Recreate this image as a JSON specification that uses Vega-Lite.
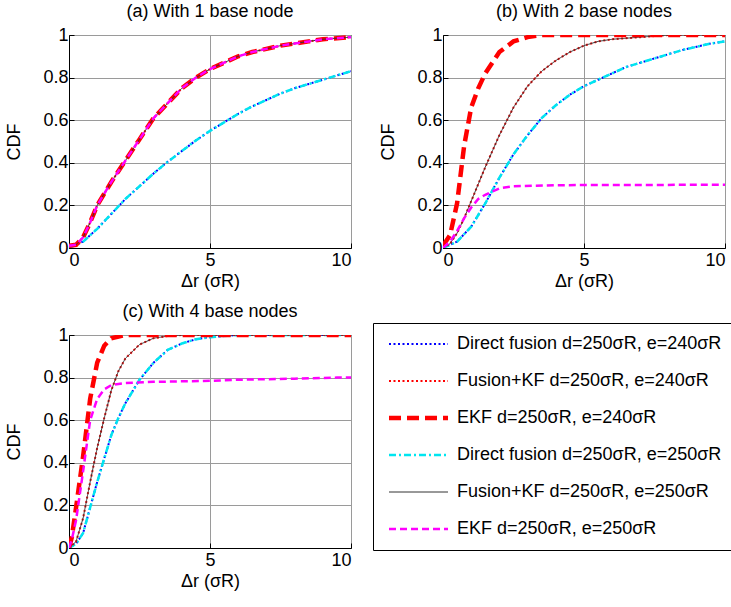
{
  "$schema": "https://vega.github.io/schema/vega-lite/v6.json",
  "padding": {"left": 5, "top": 2, "right": 5, "bottom": 5},
  "background": "white",
  "data": {"values": [
    {"p":"a","s":["DF240","DF250"],"x":0,"y":0},
    {"p":"a","s":["DF240","DF250"],"x":0.5,"y":0.03},
    {"p":"a","s":["DF240","DF250"],"x":1,"y":0.09},
    {"p":"a","s":["DF240","DF250"],"x":1.5,"y":0.16},
    {"p":"a","s":["DF240","DF250"],"x":2,"y":0.23},
    {"p":"a","s":["DF240","DF250"],"x":2.5,"y":0.29},
    {"p":"a","s":["DF240","DF250"],"x":3,"y":0.35},
    {"p":"a","s":["DF240","DF250"],"x":3.5,"y":0.405},
    {"p":"a","s":["DF240","DF250"],"x":4,"y":0.455},
    {"p":"a","s":["DF240","DF250"],"x":4.5,"y":0.505},
    {"p":"a","s":["DF240","DF250"],"x":5,"y":0.55},
    {"p":"a","s":["DF240","DF250"],"x":5.5,"y":0.59},
    {"p":"a","s":["DF240","DF250"],"x":6,"y":0.63},
    {"p":"a","s":["DF240","DF250"],"x":6.5,"y":0.665},
    {"p":"a","s":["DF240","DF250"],"x":7,"y":0.695},
    {"p":"a","s":["DF240","DF250"],"x":7.5,"y":0.725},
    {"p":"a","s":["DF240","DF250"],"x":8,"y":0.75},
    {"p":"a","s":["DF240","DF250"],"x":8.5,"y":0.77},
    {"p":"a","s":["DF240","DF250"],"x":9,"y":0.79},
    {"p":"a","s":["DF240","DF250"],"x":9.5,"y":0.81},
    {"p":"a","s":["DF240","DF250"],"x":10,"y":0.83},
    {"p":"a","s":["KF240","EKF240","KF250","EKF250"],"x":0,"y":0.01},
    {"p":"a","s":["KF240","EKF240","KF250","EKF250"],"x":0.25,"y":0.015},
    {"p":"a","s":["KF240","EKF240","KF250","EKF250"],"x":0.5,"y":0.05},
    {"p":"a","s":["KF240","EKF240","KF250","EKF250"],"x":0.75,"y":0.12},
    {"p":"a","s":["KF240","EKF240","KF250","EKF250"],"x":1,"y":0.2},
    {"p":"a","s":["KF240","EKF240","KF250","EKF250"],"x":1.5,"y":0.31},
    {"p":"a","s":["KF240","EKF240","KF250","EKF250"],"x":2,"y":0.41},
    {"p":"a","s":["KF240","EKF240","KF250","EKF250"],"x":2.5,"y":0.51},
    {"p":"a","s":["KF240","EKF240","KF250","EKF250"],"x":3,"y":0.61},
    {"p":"a","s":["KF240","EKF240","KF250","EKF250"],"x":3.5,"y":0.68},
    {"p":"a","s":["KF240","EKF240","KF250","EKF250"],"x":4,"y":0.75},
    {"p":"a","s":["KF240","EKF240","KF250","EKF250"],"x":4.5,"y":0.8},
    {"p":"a","s":["KF240","EKF240","KF250","EKF250"],"x":5,"y":0.84},
    {"p":"a","s":["KF240","EKF240","KF250","EKF250"],"x":5.5,"y":0.87},
    {"p":"a","s":["KF240","EKF240","KF250","EKF250"],"x":6,"y":0.9},
    {"p":"a","s":["KF240","EKF240","KF250","EKF250"],"x":6.5,"y":0.92},
    {"p":"a","s":["KF240","EKF240","KF250","EKF250"],"x":7,"y":0.935},
    {"p":"a","s":["KF240","EKF240","KF250","EKF250"],"x":7.5,"y":0.95},
    {"p":"a","s":["KF240","EKF240","KF250","EKF250"],"x":8,"y":0.96},
    {"p":"a","s":["KF240","EKF240","KF250","EKF250"],"x":8.5,"y":0.97},
    {"p":"a","s":["KF240","EKF240","KF250","EKF250"],"x":9,"y":0.98},
    {"p":"a","s":["KF240","EKF240","KF250","EKF250"],"x":9.5,"y":0.985},
    {"p":"a","s":["KF240","EKF240","KF250","EKF250"],"x":10,"y":0.99},

    {"p":"b","s":["DF240","DF250"],"x":0,"y":0},
    {"p":"b","s":["DF240","DF250"],"x":0.5,"y":0.03},
    {"p":"b","s":["DF240","DF250"],"x":1,"y":0.1},
    {"p":"b","s":["DF240","DF250"],"x":1.5,"y":0.21},
    {"p":"b","s":["DF240","DF250"],"x":2,"y":0.33},
    {"p":"b","s":["DF240","DF250"],"x":2.5,"y":0.44},
    {"p":"b","s":["DF240","DF250"],"x":3,"y":0.53},
    {"p":"b","s":["DF240","DF250"],"x":3.5,"y":0.61},
    {"p":"b","s":["DF240","DF250"],"x":4,"y":0.67},
    {"p":"b","s":["DF240","DF250"],"x":4.5,"y":0.72},
    {"p":"b","s":["DF240","DF250"],"x":5,"y":0.76},
    {"p":"b","s":["DF240","DF250"],"x":5.5,"y":0.79},
    {"p":"b","s":["DF240","DF250"],"x":6,"y":0.82},
    {"p":"b","s":["DF240","DF250"],"x":6.5,"y":0.85},
    {"p":"b","s":["DF240","DF250"],"x":7,"y":0.87},
    {"p":"b","s":["DF240","DF250"],"x":7.5,"y":0.89},
    {"p":"b","s":["DF240","DF250"],"x":8,"y":0.91},
    {"p":"b","s":["DF240","DF250"],"x":8.5,"y":0.93},
    {"p":"b","s":["DF240","DF250"],"x":9,"y":0.945},
    {"p":"b","s":["DF240","DF250"],"x":9.5,"y":0.96},
    {"p":"b","s":["DF240","DF250"],"x":10,"y":0.97},
    {"p":"b","s":["KF240","KF250"],"x":0,"y":0},
    {"p":"b","s":["KF240","KF250"],"x":0.25,"y":0.02},
    {"p":"b","s":["KF240","KF250"],"x":0.5,"y":0.07},
    {"p":"b","s":["KF240","KF250"],"x":0.75,"y":0.14},
    {"p":"b","s":["KF240","KF250"],"x":1,"y":0.22},
    {"p":"b","s":["KF240","KF250"],"x":1.25,"y":0.3},
    {"p":"b","s":["KF240","KF250"],"x":1.5,"y":0.38},
    {"p":"b","s":["KF240","KF250"],"x":2,"y":0.53},
    {"p":"b","s":["KF240","KF250"],"x":2.5,"y":0.66},
    {"p":"b","s":["KF240","KF250"],"x":3,"y":0.76},
    {"p":"b","s":["KF240","KF250"],"x":3.5,"y":0.83},
    {"p":"b","s":["KF240","KF250"],"x":4,"y":0.88},
    {"p":"b","s":["KF240","KF250"],"x":4.5,"y":0.92},
    {"p":"b","s":["KF240","KF250"],"x":5,"y":0.95},
    {"p":"b","s":["KF240","KF250"],"x":5.5,"y":0.97},
    {"p":"b","s":["KF240","KF250"],"x":6,"y":0.98},
    {"p":"b","s":["KF240","KF250"],"x":7,"y":0.99},
    {"p":"b","s":["KF240","KF250"],"x":8,"y":1},
    {"p":"b","s":["KF240","KF250"],"x":10,"y":1},
    {"p":"b","s":["EKF240"],"x":0,"y":0.01},
    {"p":"b","s":["EKF240"],"x":0.25,"y":0.06},
    {"p":"b","s":["EKF240"],"x":0.5,"y":0.21},
    {"p":"b","s":["EKF240"],"x":0.75,"y":0.48},
    {"p":"b","s":["EKF240"],"x":1,"y":0.66},
    {"p":"b","s":["EKF240"],"x":1.25,"y":0.75},
    {"p":"b","s":["EKF240"],"x":1.5,"y":0.82},
    {"p":"b","s":["EKF240"],"x":1.75,"y":0.87},
    {"p":"b","s":["EKF240"],"x":2,"y":0.92},
    {"p":"b","s":["EKF240"],"x":2.5,"y":0.97},
    {"p":"b","s":["EKF240"],"x":3,"y":0.99},
    {"p":"b","s":["EKF240"],"x":3.5,"y":1},
    {"p":"b","s":["EKF240"],"x":10,"y":1},
    {"p":"b","s":["EKF250"],"x":0,"y":0},
    {"p":"b","s":["EKF250"],"x":0.25,"y":0.03},
    {"p":"b","s":["EKF250"],"x":0.5,"y":0.08},
    {"p":"b","s":["EKF250"],"x":0.75,"y":0.14},
    {"p":"b","s":["EKF250"],"x":1,"y":0.19},
    {"p":"b","s":["EKF250"],"x":1.25,"y":0.23},
    {"p":"b","s":["EKF250"],"x":1.5,"y":0.25},
    {"p":"b","s":["EKF250"],"x":1.75,"y":0.265},
    {"p":"b","s":["EKF250"],"x":2,"y":0.28},
    {"p":"b","s":["EKF250"],"x":2.5,"y":0.29},
    {"p":"b","s":["EKF250"],"x":4,"y":0.295},
    {"p":"b","s":["EKF250"],"x":10,"y":0.297},

    {"p":"c","s":["DF240","DF250"],"x":0,"y":0},
    {"p":"c","s":["DF240","DF250"],"x":0.25,"y":0.02},
    {"p":"c","s":["DF240","DF250"],"x":0.5,"y":0.07},
    {"p":"c","s":["DF240","DF250"],"x":0.75,"y":0.19},
    {"p":"c","s":["DF240","DF250"],"x":1,"y":0.31},
    {"p":"c","s":["DF240","DF250"],"x":1.25,"y":0.42},
    {"p":"c","s":["DF240","DF250"],"x":1.5,"y":0.53},
    {"p":"c","s":["DF240","DF250"],"x":1.75,"y":0.61},
    {"p":"c","s":["DF240","DF250"],"x":2,"y":0.68},
    {"p":"c","s":["DF240","DF250"],"x":2.5,"y":0.79},
    {"p":"c","s":["DF240","DF250"],"x":3,"y":0.87},
    {"p":"c","s":["DF240","DF250"],"x":3.5,"y":0.93},
    {"p":"c","s":["DF240","DF250"],"x":4,"y":0.96},
    {"p":"c","s":["DF240","DF250"],"x":4.5,"y":0.98},
    {"p":"c","s":["DF240","DF250"],"x":5,"y":0.99},
    {"p":"c","s":["DF240","DF250"],"x":6,"y":1},
    {"p":"c","s":["DF240","DF250"],"x":10,"y":1},
    {"p":"c","s":["KF240","KF250"],"x":0,"y":0},
    {"p":"c","s":["KF240","KF250"],"x":0.25,"y":0.03},
    {"p":"c","s":["KF240","KF250"],"x":0.5,"y":0.14},
    {"p":"c","s":["KF240","KF250"],"x":0.75,"y":0.31},
    {"p":"c","s":["KF240","KF250"],"x":1,"y":0.47},
    {"p":"c","s":["KF240","KF250"],"x":1.25,"y":0.61},
    {"p":"c","s":["KF240","KF250"],"x":1.5,"y":0.74},
    {"p":"c","s":["KF240","KF250"],"x":1.75,"y":0.83},
    {"p":"c","s":["KF240","KF250"],"x":2,"y":0.89},
    {"p":"c","s":["KF240","KF250"],"x":2.5,"y":0.955},
    {"p":"c","s":["KF240","KF250"],"x":3,"y":0.985},
    {"p":"c","s":["KF240","KF250"],"x":3.5,"y":0.995},
    {"p":"c","s":["KF240","KF250"],"x":4,"y":1},
    {"p":"c","s":["KF240","KF250"],"x":10,"y":1},
    {"p":"c","s":["EKF240"],"x":0,"y":0},
    {"p":"c","s":["EKF240"],"x":0.1,"y":0.05},
    {"p":"c","s":["EKF240"],"x":0.25,"y":0.19},
    {"p":"c","s":["EKF240"],"x":0.5,"y":0.43},
    {"p":"c","s":["EKF240"],"x":0.75,"y":0.7},
    {"p":"c","s":["EKF240"],"x":1,"y":0.87},
    {"p":"c","s":["EKF240"],"x":1.25,"y":0.95},
    {"p":"c","s":["EKF240"],"x":1.5,"y":0.985},
    {"p":"c","s":["EKF240"],"x":2,"y":1},
    {"p":"c","s":["EKF240"],"x":10,"y":1},
    {"p":"c","s":["EKF250"],"x":0,"y":0},
    {"p":"c","s":["EKF250"],"x":0.1,"y":0.04},
    {"p":"c","s":["EKF250"],"x":0.25,"y":0.13},
    {"p":"c","s":["EKF250"],"x":0.5,"y":0.36},
    {"p":"c","s":["EKF250"],"x":0.75,"y":0.6},
    {"p":"c","s":["EKF250"],"x":1,"y":0.7},
    {"p":"c","s":["EKF250"],"x":1.25,"y":0.745},
    {"p":"c","s":["EKF250"],"x":1.5,"y":0.765},
    {"p":"c","s":["EKF250"],"x":2,"y":0.775},
    {"p":"c","s":["EKF250"],"x":3,"y":0.78},
    {"p":"c","s":["EKF250"],"x":5,"y":0.785},
    {"p":"c","s":["EKF250"],"x":6,"y":0.79},
    {"p":"c","s":["EKF250"],"x":8,"y":0.795},
    {"p":"c","s":["EKF250"],"x":9.5,"y":0.8},
    {"p":"c","s":["EKF250"],"x":10,"y":0.8}
  ]},
  "transform": [{"flatten": ["s"]}],
  "facet": {
    "field": "p", "type": "nominal",
    "header": {
      "title": null,
      "labelExpr": "datum.value == 'a' ? '(a) With 1 base node' : datum.value == 'b' ? '(b) With 2 base nodes' : '(c) With 4 base nodes'",
      "labelFont": "Liberation Sans", "labelFontSize": 18, "labelColor": "black", "labelPadding": 5
    }
  },
  "columns": 2,
  "spacing": {"row": 11, "column": 27},
  "resolve": {"axis": {"x": "independent", "y": "independent"}},
  "spec": {
    "width": 282,
    "height": 213,
    "mark": {"type": "line", "clip": true, "strokeCap": "butt"},
    "encoding": {
      "x": {"field": "x", "type": "quantitative", "scale": {"domain": [0, 10]},
            "axis": {"values": [0, 5, 10], "title": "Δr (σR)", "format": ".0f"}},
      "y": {"field": "y", "type": "quantitative", "scale": {"domain": [0, 1]},
            "axis": {"values": [0, 0.2, 0.4, 0.6, 0.8, 1], "title": "CDF", "format": "~g"}},
      "color": {"field": "s", "type": "nominal",
        "scale": {"domain": ["DF240","KF240","EKF240","DF250","KF250","EKF250"],
                  "range": ["#0000ff","#ff0000","#ff0000","#00e5f0","#333333","#ff00ff"]},
        "legend": {"title": null,
          "labelExpr": "datum.value == 'DF240' ? 'Direct fusion d=250σR, e=240σR' : datum.value == 'KF240' ? 'Fusion+KF d=250σR, e=240σR' : datum.value == 'EKF240' ? 'EKF d=250σR, e=240σR' : datum.value == 'DF250' ? 'Direct fusion d=250σR, e=250σR' : datum.value == 'KF250' ? 'Fusion+KF d=250σR, e=250σR' : 'EKF d=250σR, e=250σR'"}},
      "strokeDash": {"field": "s", "type": "nominal",
        "scale": {"domain": ["DF240","KF240","EKF240","DF250","KF250","EKF250"],
                  "range": [[2,2.5],[2,2.5],[12,6],[7,3,2,3],[1,0],[7,4]]},
        "legend": {"title": null,
          "labelExpr": "datum.value == 'DF240' ? 'Direct fusion d=250σR, e=240σR' : datum.value == 'KF240' ? 'Fusion+KF d=250σR, e=240σR' : datum.value == 'EKF240' ? 'EKF d=250σR, e=240σR' : datum.value == 'DF250' ? 'Direct fusion d=250σR, e=250σR' : datum.value == 'KF250' ? 'Fusion+KF d=250σR, e=250σR' : 'EKF d=250σR, e=250σR'"}},
      "strokeWidth": {"field": "s", "type": "nominal",
        "scale": {"type": "ordinal", "domain": ["DF240","KF240","EKF240","DF250","KF250","EKF250"],
                  "range": [2, 2, 4.5, 2.5, 1, 2.5]},
        "legend": {"title": null,
          "labelExpr": "datum.value == 'DF240' ? 'Direct fusion d=250σR, e=240σR' : datum.value == 'KF240' ? 'Fusion+KF d=250σR, e=240σR' : datum.value == 'EKF240' ? 'EKF d=250σR, e=240σR' : datum.value == 'DF250' ? 'Direct fusion d=250σR, e=250σR' : datum.value == 'KF250' ? 'Fusion+KF d=250σR, e=250σR' : 'EKF d=250σR, e=250σR'"}}
    }
  },
  "config": {
    "font": "Liberation Sans",
    "view": {"stroke": "black", "strokeWidth": 1},
    "axis": {
      "labelFont": "Liberation Sans", "labelFontSize": 18, "labelColor": "black",
      "titleFont": "Liberation Sans", "titleFontSize": 18, "titleFontWeight": "normal", "titleColor": "black",
      "domainColor": "black", "tickColor": "black", "tickSize": -5, "labelPadding": 6,
      "grid": true, "gridColor": "#9a9a9a", "gridOpacity": 1, "gridWidth": 1
    },
    "axisX": {"titlePadding": 3, "labelPadding": 8},
    "axisY": {"titlePadding": 19},
    "legend": {
      "orient": "none", "legendX": 304, "legendY": 288,
      "strokeColor": "black", "padding": 12, "rowPadding": 19,
      "labelFont": "Liberation Sans", "labelFontSize": 18, "labelColor": "black", "labelLimit": 500,
      "symbolType": "M-1,0H10.8", "symbolSize": 100, "labelOffset": 54
    }
  }
}
